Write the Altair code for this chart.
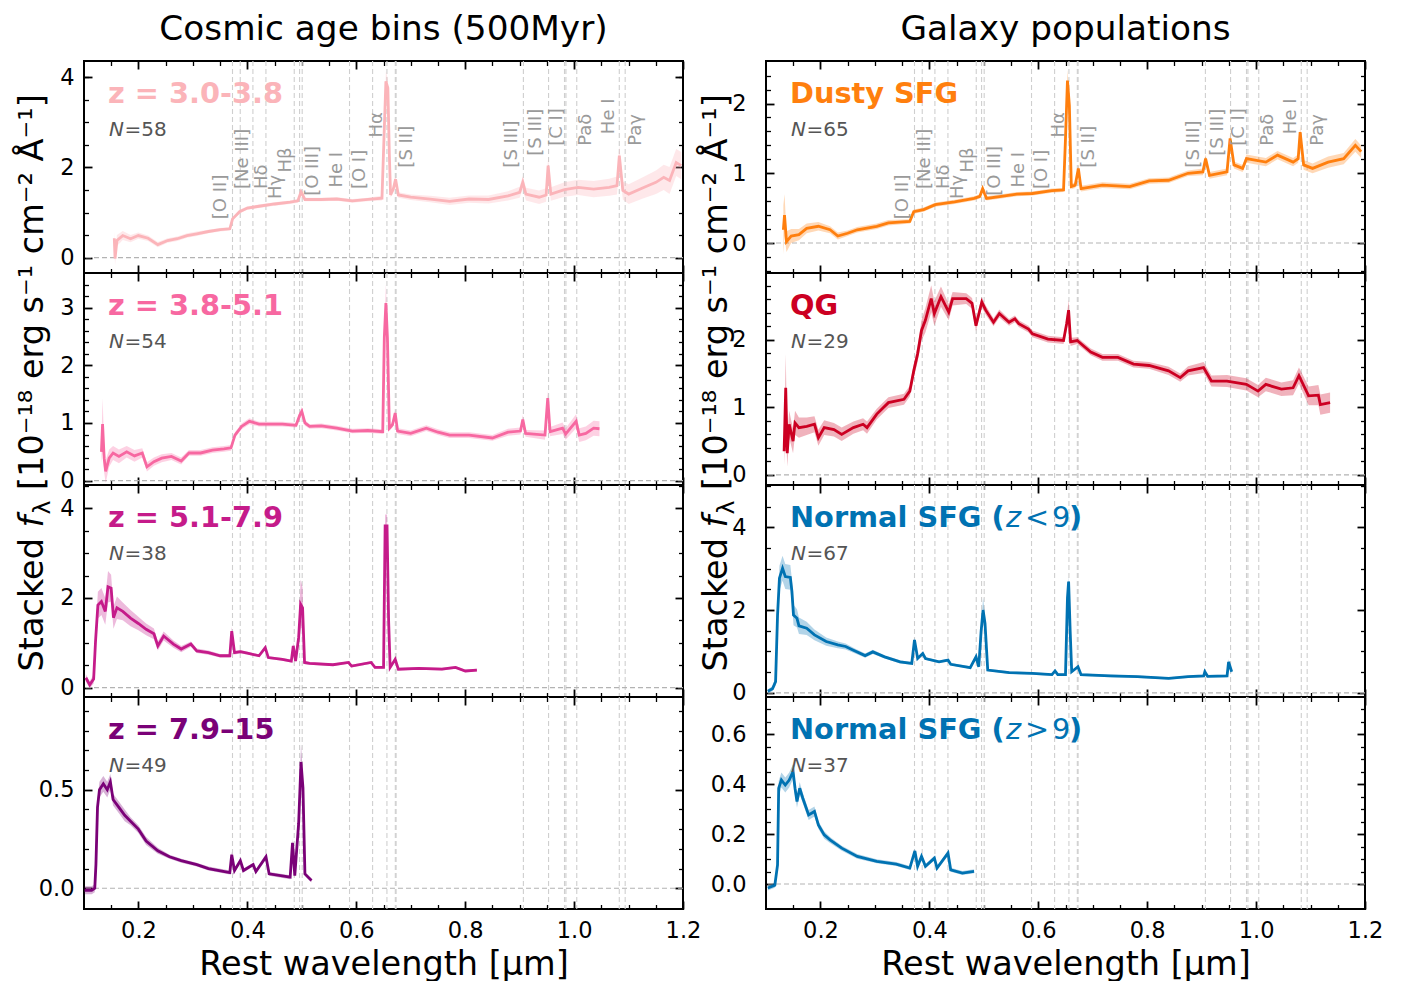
import altair as alt
import pandas as pd

FONT = "DejaVu Sans"
W, H = 599, 212

X_DOMAIN = [0.1, 1.2]
X_MAJOR = [0.2, 0.4, 0.6, 0.8, 1.0, 1.2]
X_MINOR = [0.15, 0.25, 0.3, 0.35, 0.45, 0.5, 0.55, 0.65, 0.7, 0.75,
           0.85, 0.9, 0.95, 1.05, 1.1, 1.15]

# rest-frame wavelengths (micron) of the marked emission lines
LINE_WAVES = [0.3727, 0.3869, 0.4102, 0.4341, 0.4861, 0.4959, 0.5007, 0.5876, 0.6300,
              0.6563, 0.6717, 0.6731, 0.9069, 0.9531, 0.9824, 0.9850, 1.0049, 1.0830, 1.0938]
LINE_NAMES = ["[O II]", "[Ne III]", "Hδ", "Hγ", "Hβ", "[O III]", "He I", "[O I]", "Hα",
              "[S II]", "[S III]", "[S III]", "[C I]", "Paδ", "He I", "Paγ"]
# label placement: centre wavelength and height as a fraction of the panel
LABEL_X = [0.352, 0.3928, 0.427, 0.4535, 0.4714, 0.5214, 0.5643, 0.6071, 0.6378,
           0.6929, 0.8858, 0.930, 0.9681, 1.0217, 1.0645, 1.1146]
LABEL_FRAC = [0.254, 0.396, 0.396, 0.349, 0.474, 0.364, 0.403, 0.396, 0.639,
              0.497, 0.497, 0.553, 0.600, 0.600, 0.655, 0.600]

# ---- stacked spectra: wavelength [um], flux, 1-sigma half width ----
Z1_WAVE = [0.1556, 0.1570, 0.1605, 0.1712, 0.1855, 0.1998, 0.2177, 0.2356,
           0.2535, 0.2713, 0.2892, 0.3071, 0.3285, 0.3500, 0.3678, 0.3728,
           0.3857, 0.4000, 0.4214, 0.4500, 0.4786, 0.4928, 0.4986, 0.5057,
           0.5357, 0.5643, 0.5929, 0.6215, 0.6472, 0.6508, 0.6544, 0.6580,
           0.6608, 0.6630, 0.6680, 0.6722, 0.6772, 0.7000, 0.7357, 0.7715,
           0.8072, 0.8429, 0.8787, 0.9001, 0.9058, 0.9115, 0.9358, 0.9487,
           0.9523, 0.9573, 0.9823, 1.0073, 1.0359, 1.0645, 1.0788, 1.0831,
           1.0895, 1.1003, 1.1289, 1.1503, 1.1646, 1.1753, 1.1875, 1.1968]
Z1_FLUX = [0.43, -0.02, 0.38, 0.49, 0.42, 0.49, 0.43, 0.29,
           0.38, 0.42, 0.49, 0.53, 0.58, 0.62, 0.64, 0.86,
           1.02, 1.10, 1.14, 1.19, 1.23, 1.26, 1.46, 1.29,
           1.29, 1.30, 1.26, 1.29, 1.32, 2.62, 3.91, 3.76,
           2.26, 1.39, 1.52, 1.74, 1.39, 1.34, 1.30, 1.25,
           1.30, 1.29, 1.37, 1.45, 1.67, 1.41, 1.34, 1.39,
           2.04, 1.41, 1.51, 1.56, 1.52, 1.56, 1.60, 2.26,
           1.49, 1.41, 1.56, 1.67, 1.78, 1.71, 2.11, 2.04]
Z1_ERR = [0.15, 0.15, 0.12, 0.10, 0.08, 0.07, 0.06, 0.06,
          0.05, 0.05, 0.05, 0.05, 0.04, 0.04, 0.04, 0.04,
          0.04, 0.04, 0.04, 0.04, 0.04, 0.04, 0.06, 0.04,
          0.04, 0.04, 0.04, 0.04, 0.05, 0.15, 0.22, 0.20,
          0.12, 0.06, 0.06, 0.08, 0.06, 0.06, 0.07, 0.08,
          0.08, 0.09, 0.10, 0.12, 0.14, 0.14, 0.15, 0.15,
          0.18, 0.15, 0.16, 0.17, 0.18, 0.19, 0.20, 0.22,
          0.20, 0.22, 0.24, 0.26, 0.28, 0.30, 0.30, 0.30]

Z2_WAVE = [0.1320, 0.1341, 0.1370, 0.1398, 0.1462, 0.1534, 0.1642, 0.1784,
           0.1927, 0.2070, 0.2156, 0.2284, 0.2427, 0.2606, 0.2785, 0.2928,
           0.3142, 0.3357, 0.3571, 0.3700, 0.3772, 0.3894, 0.4037, 0.4215,
           0.4430, 0.4644, 0.4894, 0.4964, 0.5000, 0.5057, 0.5143, 0.5357,
           0.5643, 0.5929, 0.6215, 0.6486, 0.6515, 0.6544, 0.6572, 0.6608,
           0.6665, 0.6715, 0.6758, 0.7000, 0.7286, 0.7501, 0.7715, 0.8072,
           0.8500, 0.8787, 0.9015, 0.9058, 0.9108, 0.9466, 0.9516, 0.9559,
           0.9788, 0.9845, 1.0037, 1.0094, 1.0216, 1.0359, 1.0466]
Z2_FLUX = [0.50, 0.98, 0.39, 0.16, 0.39, 0.48, 0.42, 0.50,
           0.43, 0.48, 0.24, 0.33, 0.39, 0.42, 0.34, 0.48,
           0.48, 0.53, 0.55, 0.57, 0.79, 0.94, 1.03, 0.98,
           0.98, 0.98, 0.96, 1.14, 1.20, 1.00, 0.94, 0.95,
           0.91, 0.86, 0.87, 0.85, 2.48, 3.08, 2.48, 0.91,
           0.97, 1.17, 0.86, 0.82, 0.91, 0.84, 0.79, 0.79,
           0.74, 0.84, 0.86, 1.06, 0.82, 0.79, 1.43, 0.85,
           0.91, 0.81, 1.03, 0.79, 0.82, 0.91, 0.90]
Z2_ERR = [0.20, 0.45, 0.25, 0.20, 0.15, 0.12, 0.12, 0.10,
          0.10, 0.08, 0.08, 0.07, 0.07, 0.06, 0.06, 0.05,
          0.05, 0.05, 0.05, 0.05, 0.05, 0.05, 0.05, 0.04,
          0.04, 0.04, 0.04, 0.06, 0.08, 0.05, 0.04, 0.04,
          0.04, 0.04, 0.04, 0.04, 0.20, 0.32, 0.20, 0.05,
          0.05, 0.06, 0.05, 0.05, 0.05, 0.05, 0.05, 0.05,
          0.05, 0.06, 0.06, 0.08, 0.06, 0.08, 0.12, 0.08,
          0.10, 0.10, 0.12, 0.12, 0.12, 0.13, 0.13]

Z3_WAVE = [0.1034, 0.1105, 0.1177, 0.1212, 0.1255, 0.1320, 0.1391, 0.1441,
           0.1498, 0.1541, 0.1605, 0.1712, 0.1855, 0.1998, 0.2141, 0.2284,
           0.2356, 0.2463, 0.2642, 0.2785, 0.2963, 0.3071, 0.3285, 0.3500,
           0.3678, 0.3713, 0.3764, 0.3871, 0.4000, 0.4214, 0.4328, 0.4385,
           0.4642, 0.4807, 0.4843, 0.4885, 0.4942, 0.4978, 0.5014, 0.5050,
           0.5143, 0.5572, 0.5858, 0.5914, 0.6272, 0.6344, 0.6501, 0.6530,
           0.6565, 0.6594, 0.6622, 0.6715, 0.6772, 0.7144, 0.7573, 0.7823,
           0.8002, 0.8215]
Z3_FLUX = [0.22, 0.06, 0.19, 1.04, 1.84, 1.92, 1.70, 2.25,
           2.22, 1.56, 1.78, 1.70, 1.55, 1.43, 1.30, 1.20,
           0.93, 1.15, 0.97, 0.86, 0.97, 0.82, 0.78, 0.71,
           0.71, 1.26, 0.78, 0.80, 0.77, 0.71, 0.89, 0.67,
           0.63, 0.59, 0.93, 0.59, 1.12, 1.86, 1.78, 0.56,
           0.54, 0.51, 0.56, 0.48, 0.56, 0.45, 0.45, 3.61,
           3.61, 1.49, 0.45, 0.63, 0.41, 0.43, 0.41, 0.45,
           0.37, 0.39]
Z3_ERR = [0.08, 0.08, 0.10, 0.20, 0.30, 0.30, 0.30, 0.35,
          0.30, 0.25, 0.25, 0.20, 0.18, 0.15, 0.13, 0.12,
          0.10, 0.10, 0.08, 0.07, 0.06, 0.05, 0.05, 0.04,
          0.04, 0.10, 0.04, 0.04, 0.03, 0.03, 0.05, 0.03,
          0.03, 0.03, 0.08, 0.03, 0.20, 0.55, 0.45, 0.04,
          0.03, 0.03, 0.03, 0.03, 0.03, 0.03, 0.03, 0.25,
          0.25, 0.12, 0.03, 0.05, 0.03, 0.03, 0.03, 0.03,
          0.03, 0.03]

Z4_WAVE = [0.1012, 0.1141, 0.1198, 0.1219, 0.1248, 0.1284, 0.1355, 0.1427,
           0.1484, 0.1534, 0.1641, 0.1748, 0.1855, 0.1998, 0.2141, 0.2356,
           0.2570, 0.2785, 0.3071, 0.3285, 0.3678, 0.3713, 0.3764, 0.3871,
           0.3928, 0.4107, 0.4157, 0.4342, 0.4400, 0.4786, 0.4829, 0.4871,
           0.4942, 0.4985, 0.5021, 0.5057, 0.5178]
Z4_FLUX = [-0.01, -0.01, 0.00, 0.12, 0.41, 0.50, 0.53, 0.50,
           0.54, 0.45, 0.41, 0.37, 0.34, 0.30, 0.24, 0.19,
           0.16, 0.14, 0.12, 0.10, 0.08, 0.17, 0.09, 0.14,
           0.09, 0.12, 0.085, 0.16, 0.073, 0.056, 0.23, 0.064,
           0.33, 0.64, 0.51, 0.073, 0.04]
Z4_ERR = [0.02, 0.02, 0.02, 0.03, 0.04, 0.04, 0.04, 0.04,
          0.04, 0.03, 0.03, 0.03, 0.02, 0.02, 0.02, 0.015,
          0.01, 0.01, 0.01, 0.01, 0.01, 0.015, 0.01, 0.01,
          0.01, 0.01, 0.01, 0.015, 0.01, 0.01, 0.02, 0.01,
          0.03, 0.09, 0.06, 0.01, 0.01]

DUSTY_WAVE = [0.1319, 0.1340, 0.1376, 0.1462, 0.1605, 0.1747, 0.1962, 0.2176,
              0.2319, 0.2498, 0.2677, 0.3034, 0.3248, 0.3641, 0.3713, 0.3894,
              0.4108, 0.4463, 0.4821, 0.4928, 0.4978, 0.5049, 0.5321, 0.5607,
              0.5892, 0.6250, 0.6464, 0.6500, 0.6536, 0.6571, 0.6607, 0.6679,
              0.6736, 0.6786, 0.7179, 0.7679, 0.8037, 0.8394, 0.8751, 0.9023,
              0.9073, 0.9144, 0.9466, 0.9523, 0.9594, 0.9752, 0.9823, 1.0180,
              1.0394, 1.0680, 1.0773, 1.0809, 1.0873, 1.1037, 1.1323, 1.1609,
              1.1823, 1.1930]
DUSTY_FLUX = [0.19, 0.40, 0.02, 0.10, 0.12, 0.21, 0.24, 0.19,
              0.10, 0.14, 0.19, 0.24, 0.29, 0.31, 0.45, 0.48,
              0.55, 0.59, 0.64, 0.67, 0.78, 0.64, 0.67, 0.70,
              0.71, 0.75, 0.76, 1.50, 2.33, 1.97, 0.81, 0.83,
              1.07, 0.78, 0.83, 0.81, 0.89, 0.90, 1.00, 1.02,
              1.21, 0.97, 1.02, 1.50, 1.12, 1.07, 1.21, 1.16,
              1.26, 1.16, 1.21, 1.59, 1.12, 1.07, 1.16, 1.21,
              1.40, 1.31]
DUSTY_ERR = [0.35, 0.30, 0.15, 0.10, 0.08, 0.07, 0.06, 0.05,
             0.05, 0.04, 0.04, 0.04, 0.04, 0.03, 0.03, 0.03,
             0.03, 0.03, 0.03, 0.03, 0.04, 0.03, 0.03, 0.03,
             0.03, 0.03, 0.03, 0.10, 0.15, 0.12, 0.04, 0.04,
             0.05, 0.04, 0.04, 0.04, 0.04, 0.04, 0.04, 0.05,
             0.06, 0.05, 0.05, 0.07, 0.05, 0.05, 0.06, 0.06,
             0.06, 0.06, 0.06, 0.08, 0.07, 0.07, 0.08, 0.08,
             0.09, 0.09]

QG_WAVE = [0.1333, 0.1362, 0.1390, 0.1426, 0.1497, 0.1533, 0.1605, 0.1748,
           0.1890, 0.1962, 0.2069, 0.2248, 0.2390, 0.2605, 0.2783, 0.2855,
           0.3034, 0.3248, 0.3534, 0.3641, 0.3713, 0.3784, 0.3856, 0.3927,
           0.4034, 0.4091, 0.4213, 0.4356, 0.4427, 0.4677, 0.4784, 0.4856,
           0.4963, 0.5035, 0.5178, 0.5285, 0.5464, 0.5571, 0.5642, 0.5821,
           0.5892, 0.6178, 0.6464, 0.6521, 0.6557, 0.6593, 0.6714, 0.6964,
           0.7178, 0.7464, 0.7750, 0.8036, 0.8393, 0.8608, 0.8751, 0.9036,
           0.9179, 0.9465, 0.9822, 1.0036, 1.0179, 1.0465, 1.0679, 1.0787,
           1.0965, 1.1144, 1.1180, 1.1359]
QG_FLUX = [0.35, 1.29, 0.32, 0.75, 0.50, 0.77, 0.70, 0.72,
           0.75, 0.55, 0.70, 0.67, 0.60, 0.70, 0.75, 0.70,
           0.90, 1.07, 1.12, 1.24, 1.54, 1.79, 2.14, 2.29,
           2.61, 2.39, 2.64, 2.41, 2.61, 2.61, 2.54, 2.21,
           2.56, 2.44, 2.26, 2.39, 2.26, 2.31, 2.24, 2.16,
           2.09, 2.01, 1.99, 2.24, 2.44, 1.97, 1.99, 1.82,
           1.74, 1.74, 1.64, 1.62, 1.54, 1.44, 1.54, 1.59,
           1.39, 1.39, 1.34, 1.24, 1.34, 1.27, 1.29, 1.47,
           1.17, 1.18, 1.04, 1.07]
QG_ERR = [0.20, 0.50, 0.20, 0.20, 0.18, 0.18, 0.15, 0.13,
          0.12, 0.12, 0.11, 0.10, 0.10, 0.09, 0.09, 0.09,
          0.08, 0.08, 0.08, 0.08, 0.10, 0.12, 0.15, 0.18,
          0.20, 0.18, 0.15, 0.12, 0.10, 0.08, 0.08, 0.08,
          0.08, 0.07, 0.06, 0.06, 0.05, 0.05, 0.05, 0.05,
          0.05, 0.05, 0.05, 0.10, 0.15, 0.06, 0.05, 0.05,
          0.05, 0.05, 0.05, 0.05, 0.06, 0.06, 0.07, 0.08,
          0.08, 0.09, 0.09, 0.09, 0.10, 0.10, 0.11, 0.12,
          0.14, 0.15, 0.15, 0.15]

SFG_LO_WAVE = [0.1033, 0.1119, 0.1176, 0.1212, 0.1247, 0.1304, 0.1354, 0.1447,
               0.1476, 0.1505, 0.1569, 0.1605, 0.1747, 0.1890, 0.2105, 0.2319,
               0.2462, 0.2605, 0.2820, 0.2962, 0.3177, 0.3462, 0.3677, 0.3727,
               0.3785, 0.3878, 0.3928, 0.4178, 0.4343, 0.4392, 0.4750, 0.4857,
               0.4907, 0.4950, 0.4986, 0.5022, 0.5072, 0.5465, 0.5894, 0.6251,
               0.6308, 0.6358, 0.6500, 0.6536, 0.6557, 0.6586, 0.6614, 0.6729,
               0.6786, 0.7322, 0.7823, 0.8395, 0.8752, 0.9038, 0.9059, 0.9109,
               0.9467, 0.9495, 0.9552]
SFG_LO_FLUX = [0.04, 0.10, 0.27, 1.88, 2.77, 3.01, 2.81, 2.79,
               2.45, 1.88, 1.80, 1.62, 1.56, 1.40, 1.24, 1.16,
               1.12, 1.03, 0.90, 0.99, 0.87, 0.75, 0.71, 1.28,
               0.83, 0.95, 0.83, 0.75, 0.79, 0.69, 0.61, 0.87,
               0.63, 1.48, 2.00, 1.68, 0.55, 0.49, 0.47, 0.44,
               0.53, 0.44, 0.44, 2.29, 2.69, 1.48, 0.51, 0.63,
               0.44, 0.41, 0.39, 0.35, 0.39, 0.41, 0.51, 0.40,
               0.41, 0.75, 0.51]
SFG_LO_ERR = [0.05, 0.06, 0.10, 0.25, 0.30, 0.30, 0.30, 0.30,
              0.28, 0.25, 0.22, 0.20, 0.16, 0.13, 0.10, 0.08,
              0.07, 0.06, 0.05, 0.05, 0.04, 0.04, 0.03, 0.06,
              0.03, 0.04, 0.03, 0.03, 0.03, 0.03, 0.03, 0.05,
              0.03, 0.15, 0.30, 0.20, 0.03, 0.03, 0.03, 0.03,
              0.03, 0.03, 0.03, 0.10, 0.12, 0.08, 0.03, 0.03,
              0.03, 0.03, 0.03, 0.03, 0.03, 0.03, 0.04, 0.03,
              0.03, 0.06, 0.04]

SFG_HI_WAVE = [0.1033, 0.1162, 0.1212, 0.1233, 0.1283, 0.1354, 0.1426, 0.1497,
               0.1533, 0.1569, 0.1619, 0.1676, 0.1783, 0.1890, 0.1962, 0.2069,
               0.2176, 0.2391, 0.2676, 0.3034, 0.3391, 0.3641, 0.3734, 0.3784,
               0.3856, 0.3928, 0.4092, 0.4141, 0.4342, 0.4392, 0.4606, 0.4821]
SFG_HI_FLUX = [-0.016, -0.005, 0.077, 0.384, 0.417, 0.397, 0.417, 0.451,
               0.384, 0.331, 0.384, 0.344, 0.277, 0.291, 0.237, 0.197,
               0.177, 0.144, 0.111, 0.091, 0.080, 0.064, 0.133, 0.071,
               0.111, 0.071, 0.104, 0.064, 0.124, 0.057, 0.044, 0.051]
SFG_HI_ERR = [0.01, 0.01, 0.015, 0.03, 0.03, 0.03, 0.03, 0.03,
              0.03, 0.025, 0.025, 0.02, 0.02, 0.02, 0.015, 0.015,
              0.012, 0.01, 0.01, 0.008, 0.008, 0.008, 0.01, 0.008,
              0.01, 0.008, 0.01, 0.008, 0.01, 0.008, 0.008, 0.008]

YLABEL_UNITS = "[10⁻¹⁸ erg s⁻¹ cm⁻² Å⁻¹]"


def x_axis(orient, values, size, labels=False):
    kw = dict(orient=orient, values=values, tickSize=size, offset=-size, domain=False,
              grid=False, labels=labels, tickColor="black",
              tickWidth=1.8 if size > 6 else 1.3, labelFlush=False, title=None)
    if labels:
        kw.update(format=".1f", labelFont=FONT, labelFontSize=22.5, labelColor="black",
                  labelPadding=10.5, title="Rest wavelength [μm]", titleFont=FONT,
                  titleFontSize=33.5, titleFontWeight="normal", titleColor="black",
                  titlePadding=6)
    return alt.Axis(**kw)


def y_axis(orient, values, size, labels=False, fmt="d", pad=10):
    kw = dict(orient=orient, values=values, tickSize=size, offset=-size, domain=False,
              grid=False, labels=labels, tickColor="black",
              tickWidth=1.8 if size > 6 else 1.3, labelFlush=False, title=None)
    if labels:
        kw.update(format=fmt, labelFont=FONT, labelFontSize=22.5, labelColor="black",
                  labelPadding=pad)
    return alt.Axis(**kw)


def text(t, x, y, size, color="black", weight="normal", style="normal",
         align="left", angle=0, dx=0, dy=0):
    return alt.Chart(pd.DataFrame({"t": [t]})).mark_text(
        align=align, baseline="alphabetic", font=FONT, fontSize=size,
        fontWeight=weight, fontStyle=style, color=color, angle=angle, dx=dx, dy=dy
    ).encode(x=alt.value(x), y=alt.value(y), text="t:N")


def panel(wave, flux, err, color, ydom, ymajor, yminor, fmt, title_parts, n,
          col, bottom=False, top=False, column_title=None):
    xs = alt.Scale(domain=X_DOMAIN, nice=False, zero=False)
    ys = alt.Scale(domain=ydom, nice=False, zero=False)
    spec = pd.DataFrame({"wave": wave, "flux": flux,
                         "lo": [f - e for f, e in zip(flux, err)],
                         "hi": [f + e for f, e in zip(flux, err)]})
    pad = 10 if col == 0 else 20

    lines = alt.Chart(pd.DataFrame({"wave": LINE_WAVES})).mark_rule(
        color="#cfcfcf", strokeDash=[5, 3], strokeWidth=1.1
    ).encode(x=alt.X("wave:Q", scale=xs, axis=x_axis("bottom", X_MINOR, 4.5)))

    zero = alt.Chart(pd.DataFrame({"y": [0.0]})).mark_rule(
        color="#b3b3b3", strokeDash=[5, 3], strokeWidth=1.1
    ).encode(y=alt.Y("y:Q", scale=ys, axis=y_axis("left", yminor, 4.5)))

    band = alt.Chart(spec).mark_area(color=color, opacity=0.3, clip=True).encode(
        x=alt.X("wave:Q", scale=xs, axis=x_axis("bottom", X_MAJOR, 8, labels=bottom)),
        y=alt.Y("lo:Q", scale=ys, axis=y_axis("left", ymajor, 8, True, fmt, pad)),
        y2="hi:Q",
    )
    line = alt.Chart(spec).mark_line(color=color, strokeWidth=2.8, clip=True).encode(
        x=alt.X("wave:Q", scale=xs, axis=x_axis("top", X_MAJOR, 8)),
        y=alt.Y("flux:Q", scale=ys, axis=y_axis("right", ymajor, 8)),
    )
    ghost = alt.Chart(spec).mark_line(opacity=0).encode(
        x=alt.X("wave:Q", scale=xs, axis=x_axis("top", X_MINOR, 4.5)),
        y=alt.Y("flux:Q", scale=ys, axis=y_axis("right", yminor, 4.5)),
    )

    layers = [lines, zero, band, line, ghost]
    for t, x, weight, style in title_parts:
        layers.append(text(t, x, 42, 28.8, color=color, weight=weight, style=style))
    layers.append(text("N", 25, 74.5, 20, color="#555555", style="italic"))
    layers.append(text("=" + str(n), 40.5, 74.5, 20, color="#555555"))

    if top:
        ldf = pd.DataFrame({"x": LABEL_X, "frac": LABEL_FRAC, "name": LINE_NAMES})
        ldf["y"] = ydom[0] + ldf["frac"] * (ydom[1] - ydom[0])
        layers.append(alt.Chart(ldf).mark_text(
            angle=270, align="left", baseline="middle", font=FONT, fontSize=18,
            color="#9a9a9a"
        ).encode(x=alt.X("x:Q", scale=xs, axis=None),
                 y=alt.Y("y:Q", scale=ys, axis=None), text="name:N"))
        # column heading
        layers.append(text(column_title, W / 2, -21, 34.3, align="center"))
        # shared y-axis title, set piece by piece along a rotated baseline
        bx = -41 if col == 0 else -39
        by = 466.5
        layers.append(text("Stacked", bx, by, 33.5, align="right", angle=270, dx=-10.5))
        layers.append(text("f", bx, by, 33.5, style="italic", angle=270))
        layers.append(text("λ", bx, by, 23.5, angle=270, dx=13, dy=7))
        layers.append(text(YLABEL_UNITS, bx, by, 33.5, angle=270, dx=37.5))

    return alt.layer(*layers).resolve_axis(x="independent", y="independent").properties(
        width=W, height=H)


P1, P2, P3, P4 = "#fbb4b9", "#f768a1", "#c51b8a", "#7a0177"
ORANGE, RED, BLUE = "#ff7f0e", "#cc0022", "#0072b2"

left = alt.vconcat(
    panel(Z1_WAVE, Z1_FLUX, Z1_ERR, P1, [-0.34, 4.36], [0, 2, 4],
          [0.5, 1, 1.5, 2.5, 3, 3.5, 4], "d", [("z = 3.0-3.8", 24, "bold", "normal")], 58,
          0, top=True, column_title="Cosmic age bins (500Myr)"),
    panel(Z2_WAVE, Z2_FLUX, Z2_ERR, P2, [-0.075, 3.6], [0, 1, 2, 3],
          [0.2, 0.4, 0.6, 0.8, 1.2, 1.4, 1.6, 1.8, 2.2, 2.4, 2.6, 2.8, 3.2, 3.4], "d",
          [("z = 3.8-5.1", 24, "bold", "normal")], 54, 0),
    panel(Z3_WAVE, Z3_FLUX, Z3_ERR, P3, [-0.21, 4.52], [0, 2, 4],
          [0.5, 1, 1.5, 2.5, 3, 3.5, 4.5], "d", [("z = 5.1-7.9", 24, "bold", "normal")], 38, 0),
    panel(Z4_WAVE, Z4_FLUX, Z4_ERR, P4, [-0.105, 0.97], [0.0, 0.5],
          [0.1, 0.2, 0.3, 0.4, 0.6, 0.7, 0.8, 0.9], ".1f",
          [("z = 7.9–15", 24, "bold", "normal")], 49, 0, bottom=True),
    spacing=0, bounds="flush",
)

right = alt.vconcat(
    panel(DUSTY_WAVE, DUSTY_FLUX, DUSTY_ERR, ORANGE, [-0.43, 2.61], [0, 1, 2],
          [0.2, 0.4, 0.6, 0.8, 1.2, 1.4, 1.6, 1.8, 2.2, 2.4, -0.2, -0.4], "d",
          [("Dusty SFG", 24, "bold", "normal")], 65, 1, top=True,
          column_title="Galaxy populations"),
    panel(QG_WAVE, QG_FLUX, QG_ERR, RED, [-0.15, 2.99], [0, 1, 2],
          [0.2, 0.4, 0.6, 0.8, 1.2, 1.4, 1.6, 1.8, 2.2, 2.4, 2.6, 2.8], "d",
          [("QG", 24, "bold", "normal")], 29, 1),
    panel(SFG_LO_WAVE, SFG_LO_FLUX, SFG_LO_ERR, BLUE, [-0.1, 5.02], [0, 2, 4],
          [0.5, 1, 1.5, 2.5, 3, 3.5, 4.5, 5], "d",
          [("Normal SFG (", 24, "bold", "normal"), ("z", 240, "normal", "italic"),
           ("<", 259, "normal", "normal"), ("9", 286, "normal", "normal"),
           (")", 303, "bold", "normal")], 67, 1),
    panel(SFG_HI_WAVE, SFG_HI_FLUX, SFG_HI_ERR, BLUE, [-0.10, 0.75], [0.0, 0.2, 0.4, 0.6],
          [0.05, 0.1, 0.15, 0.25, 0.3, 0.35, 0.45, 0.5, 0.55, 0.65, 0.7], ".1f",
          [("Normal SFG (", 24, "bold", "normal"), ("z", 240, "normal", "italic"),
           (">", 259, "normal", "normal"), ("9", 286, "normal", "normal"),
           (")", 303, "bold", "normal")], 37, 1, bottom=True),
    spacing=0, bounds="flush",
)

chart = alt.hconcat(left, right, spacing=-4).configure_view(
    stroke="black", strokeWidth=2
).properties(padding={"left": 14, "top": 12, "right": 5, "bottom": 0})

chart.save("out.html", embed_options={"renderer": "svg", "actions": False})
